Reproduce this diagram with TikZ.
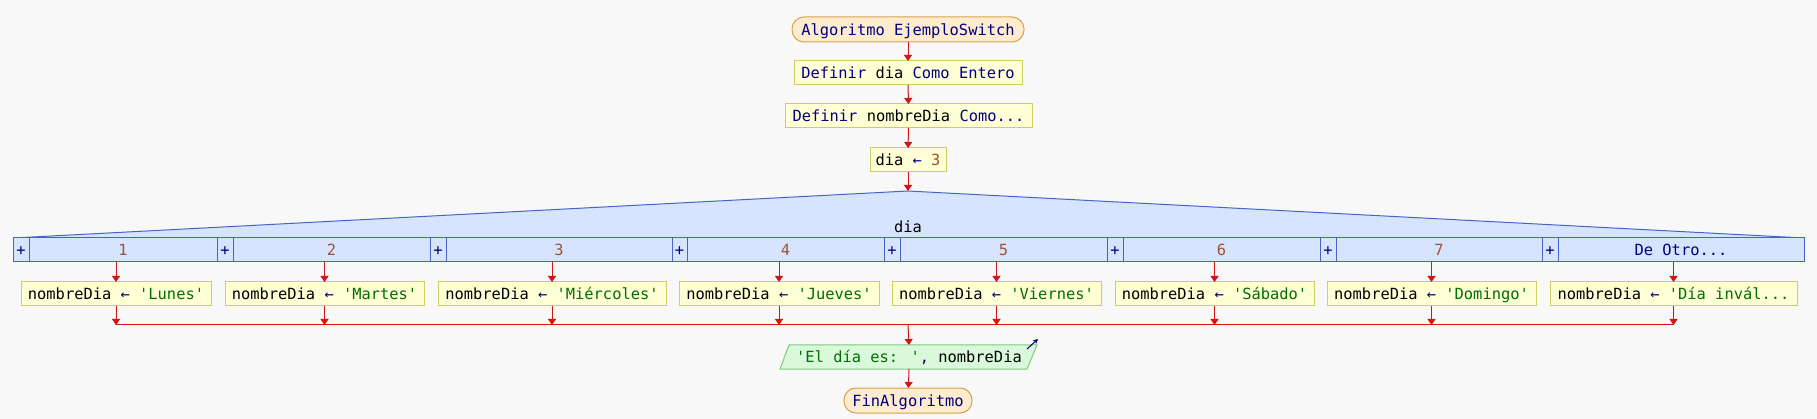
\documentclass[tikz,border=0pt]{standalone}
\usepackage{fontspec}
\newfontfamily\monof[Ligatures=TeXOff]{DejaVu Sans Mono}
\usetikzlibrary{arrows.meta}
\definecolor{bgc}{RGB}{248,248,248}
\definecolor{kwcol}{RGB}{0,0,128}
\definecolor{numcol}{RGB}{160,82,45}
\definecolor{strcol}{RGB}{0,110,0}
\definecolor{arrcol}{RGB}{210,20,20}
\definecolor{procfill}{RGB}{255,255,214}
\definecolor{procdraw}{RGB}{205,205,100}
\definecolor{termfill}{RGB}{255,236,206}
\definecolor{termdraw}{RGB}{215,160,80}
\definecolor{hdrfill}{RGB}{214,228,255}
\definecolor{hdrdraw}{RGB}{70,100,200}
\definecolor{outfill}{RGB}{218,248,218}
\definecolor{outdraw}{RGB}{130,200,130}
\newcommand\kwc[1]{\textcolor{kwcol}{#1}}
\newcommand\numc[1]{\textcolor{numcol}{#1}}
\newcommand\strc[1]{\textcolor{strcol}{#1}}
\newcommand\otrolbl{\kwc{De Otro...}}
\newcommand\invlbl{'Día invál...}
\tikzset{
  txt/.style={inner sep=0pt, outer sep=0pt, text height=11.4pt, text depth=0pt, font=\monof\fontsize{15.4}{18}\selectfont},
  term/.style={txt, draw=termdraw, fill=termfill, line width=1pt, rounded corners=12pt, minimum height=25pt},
  proc/.style={txt, draw=procdraw, fill=procfill, line width=1pt, minimum height=24pt},
  cell/.style={txt, draw=hdrdraw, fill=hdrfill, line width=1pt, minimum height=24pt},
  flow/.style={draw=arrcol, line width=1pt, -{Triangle[width=8pt,length=6pt]}},
  plainline/.style={draw=arrcol, line width=1pt},
}
\begin{document}
\begin{tikzpicture}[x=1pt,y=-1pt]
\fill[bgc] (0,0) rectangle (1817,419);
\useasboundingbox (0,0) rectangle (1817,419);

\node[term, minimum width=232pt] (start) at (908,29.5) {\kwc{Algoritmo EjemploSwitch}};
\node[proc, minimum width=228pt] (d1) at (908,73) {\kwc{Definir} dia \kwc{Como Entero}};
\node[proc, minimum width=247pt] (d2) at (908.5,116) {\kwc{Definir} nombreDia \kwc{Como...}};
\node[proc, minimum width=76pt] (a1) at (908,160) {dia \kwc{←} \numc{3}};

\coordinate (apex) at (908,191);
\path[fill=hdrfill, draw=hdrdraw, line width=1pt] (13,238) -- (apex) -- (1804,238);
\node[txt] (sel) at (908,227) {dia};

\foreach \i/\pl/\vl/\vr/\lab in {
  1/13/29/217/\numc{1},
  2/217/233/430/\numc{2},
  3/430/446/672/\numc{3},
  4/672/687/884/\numc{4},
  5/884/900/1107/\numc{5},
  6/1107/1123/1320/\numc{6},
  7/1320/1336/1542/\numc{7},
  8/1542/1558/1804/\otrolbl}{
  \node[cell, minimum width={\vl-\pl}, anchor=west] (p\i) at (\pl,250) {\kwc{+}};
  \node[cell, minimum width={\vr-\vl}, anchor=west] (c\i) at (\vl,250) {\lab};
}

\coordinate (mline) at (0,325);
\foreach \i/\l/\r/\s in {
  1/21/211/'Lunes',
  2/225/424/'Martes',
  3/438/666/'Miércoles',
  4/679/879/'Jueves',
  5/892/1101/'Viernes',
  6/1115/1314/'Sábado',
  7/1327/1536/'Domingo',
  8/1550/1797/\invlbl}{
  \node[proc, minimum width={\r-\l}, anchor=west] (b\i) at (\l,294) {nombreDia \kwc{←} \strc{\s}};
  \coordinate (m\i) at (b\i.south |- mline);
  \draw[flow] (b\i.north |- c\i.south) -- (b\i.north);
  \draw[flow] (b\i.south) -- (m\i);
}
\draw[plainline] (m1) -- (m8);

\path[fill=outfill, draw=outdraw, line width=1pt] (780,369) -- (789,345) -- (1037,345) -- (1027,369) -- cycle;
\node[txt, minimum width=240pt, minimum height=24pt] (out) at (909,357) {\strc{'El día es: '}\kwc{,} nombreDia};
\draw[kwcol, line width=1pt, -{Stealth[length=5pt,width=5pt]}] (1027,349) -- (1038,339);

\node[term, minimum width=128pt] (end) at (908,400.5) {\kwc{FinAlgoritmo}};

\coordinate (mid) at (908,325);
\draw[flow] (start) -- (d1);
\draw[flow] (d1) -- (d2);
\draw[flow] (d2) -- (a1);
\draw[flow] (a1) -- (apex);
\draw[flow] (mid) -- (out.north);
\draw[flow] (out.south) -- (end);
\end{tikzpicture}
\end{document}
